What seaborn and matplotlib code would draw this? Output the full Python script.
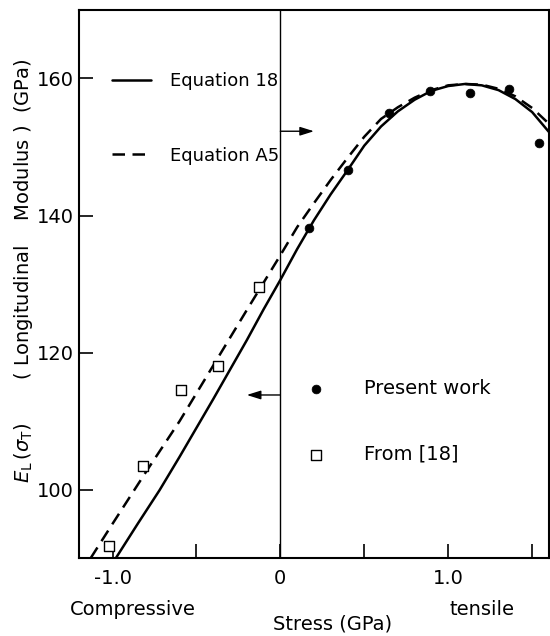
import numpy as np
import pandas as pd
import matplotlib
matplotlib.use("Agg")
import matplotlib.pyplot as plt
import seaborn as sns

# ---- data ----
eq18_x = [-0.98, -0.85, -0.72, -0.6, -0.4, -0.2, -0.1, 0.0, 0.1, 0.2, 0.3, 0.4, 0.5,
          0.6, 0.7, 0.8, 0.9, 1.0, 1.1, 1.2, 1.3, 1.4, 1.5, 1.6]
eq18_y = [90.0, 95.0, 99.9, 104.8, 113.2, 121.8, 126.3, 130.6, 135.1, 139.3, 143.1,
          146.6, 150.2, 153.0, 155.2, 156.9, 158.2, 158.9, 159.2, 159.0, 158.3, 157.0,
          155.1, 152.2]

a5_x = [-1.13, -1.0, -0.8, -0.6, -0.4, -0.2, -0.1, 0.0, 0.1, 0.2, 0.3, 0.4, 0.5,
        0.6, 0.7, 0.8, 0.9, 1.0, 1.1, 1.2, 1.3, 1.4, 1.5, 1.6]
a5_y = [90.0, 95.0, 102.6, 110.0, 118.1, 126.2, 130.2, 134.2, 138.3, 141.8, 145.2,
        148.4, 151.5, 154.1, 155.8, 157.2, 158.3, 159.0, 159.2, 159.1, 158.5, 157.4,
        155.7, 153.4]

present_x = [0.17, 0.40, 0.65, 0.89, 1.13, 1.36, 1.54]
present_y = [138.2, 146.6, 154.9, 158.2, 157.9, 158.4, 150.6]

ref18_x = [-1.02, -0.82, -0.59, -0.37, -0.13]
ref18_y = [91.8, 103.5, 114.5, 118.0, 129.5]

xtick_major = [-1.0, 0.0, 1.0]
xtick_labels = ["-1.0", "0", "1.0"]
xtick_minor = [-0.5, 0.5, 1.5]
ytick_vals = [100, 120, 140, 160]
ytick_labels = ["100", "120", "140", "160"]

arrow_y = [152.3, 113.8]
arrow_dx = [0.2, -0.2]

# ---- style ----
sns.set_style("ticks")
plt.rcParams["font.family"] = ["DejaVu Sans"]
plt.rcParams["mathtext.fontset"] = "dejavusans"
for k in ["text.color", "axes.labelcolor", "xtick.color", "ytick.color",
          "xtick.labelcolor", "ytick.labelcolor"]:
    plt.rcParams[k] = "black"

fig = plt.figure(figsize=(5.5, 6.36), dpi=100)
ax = fig.add_axes([0.1436, 0.1226, 0.8544, 0.8617])

sns.lineplot(x=eq18_x, y=eq18_y, ax=ax, color="black", lw=1.8,
             sort=False, estimator=None, label="Equation 18")
sns.lineplot(x=a5_x, y=a5_y, ax=ax, color="black", lw=1.8,
             sort=False, estimator=None, label="Equation A5")
ax.lines[-1].set_dashes([5, 3])

sns.scatterplot(x=present_x, y=present_y, ax=ax, marker="o", s=40,
                color="black", edgecolor="black", linewidth=0.5,
                label="Present work", zorder=5)
sns.scatterplot(x=ref18_x, y=ref18_y, ax=ax, marker="s", s=45,
                facecolor="white", edgecolor="black", linewidth=1.0,
                label="From [18]", zorder=5)

ax.axvline(0, color="black", lw=1.0, zorder=1)

for yv, dx in zip(arrow_y, arrow_dx):
    ax.annotate("", xy=(dx, yv), xytext=(0, yv),
                arrowprops=dict(arrowstyle="-|>,head_length=0.7,head_width=0.22",
                                color="black", lw=1.0,
                                mutation_scale=12, shrinkA=0, shrinkB=0))

ax.set_xlim(-1.2, 1.6)
ax.set_ylim(90, 170)
ax.set_xticks(xtick_major)
ax.set_xticklabels(xtick_labels)
ax.set_xticks(xtick_minor, minor=True)
ax.set_yticks(ytick_vals)
ax.set_yticklabels(ytick_labels)
ax.tick_params(axis="both", which="both", direction="in", length=10, width=1.2,
               labelsize=14, color="black", labelcolor="black")
ax.tick_params(axis="x", pad=8)
ax.tick_params(axis="y", pad=4)
for sp in ax.spines.values():
    sp.set_visible(True)
    sp.set_linewidth(1.5)
    sp.set_color("black")
ax.set_xlabel("")
ax.set_ylabel("")

h, l = ax.get_legend_handles_labels()
if ax.get_legend() is not None:
    ax.get_legend().remove()
leg1 = ax.legend(h[:2], l[:2], loc="upper left", bbox_to_anchor=(0.07, 0.8865),
                 frameon=False, prop={"size": 13}, handlelength=2.15,
                 handletextpad=1.05, labelspacing=3.13, borderpad=0,
                 borderaxespad=0, labelcolor="black")
ax.add_artist(leg1)
leg2 = ax.legend(h[2:], l[2:], loc="upper left", bbox_to_anchor=(0.483, 0.3265),
                 frameon=False, prop={"size": 14}, handlelength=1.0,
                 handletextpad=2.0, labelspacing=2.4, borderpad=0,
                 borderaxespad=0, scatterpoints=1, labelcolor="black")

fig.text(0.242, 0.042, "Compressive", ha="center", va="center", fontsize=14)
fig.text(0.876, 0.042, "tensile", ha="center", va="center", fontsize=14)
fig.text(0.604, 0.019, "Stress (GPa)", ha="center", va="center", fontsize=14)
fig.text(0.042, 0.575,
         r"$E_{\rm L}\,(\sigma_{\rm T})$       ( Longitudinal    Modulus )  (GPa)",
         rotation=90, ha="center", va="center", fontsize=14)

fig.savefig("out.png", dpi=100)
